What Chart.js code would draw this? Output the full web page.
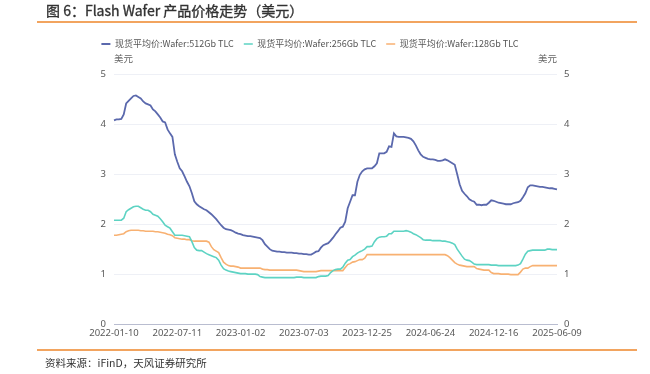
<!DOCTYPE html>
<html>
<head>
<meta charset="utf-8">
<script src="https://cdn.jsdelivr.net/npm/chart.js@4.4.1/dist/chart.umd.min.js"></script>
<style>
    html, body { margin: 0; padding: 0; background: #fff; }
    body { position: relative; width: 650px; height: 374px; overflow: hidden; font-family: "Noto Sans CJK SC", "Noto Sans", sans-serif; }
    .title { position: absolute; left: 46px; top: 0; line-height: 20px; font-size: 14px; font-weight: normal; -webkit-text-stroke: 0.35px #333; color: #333; white-space: nowrap; }
    .rule { position: absolute; left: 37px; width: 600px; height: 2px; background: #f2a45f; }
    .source { position: absolute; left: 45px; top: 355px; line-height: 16px; font-size: 10.5px; color: #333; white-space: nowrap; }
    .chart-box { position: absolute; left: 0; top: 0; width: 650px; height: 374px; }
</style>
</head>
<body>
<div class="chart-box"><canvas id="chart"></canvas></div>
<div class="title">图 6：Flash Wafer 产品价格走势（美元）</div>
<div class="rule" style="top: 21px;"></div>
<div class="rule" style="top: 349px;"></div>
<div class="source">资料来源：iFinD，天风证券研究所</div>

<script>
// weekly prices, one tick label every 26 points
const tickLabels = ['2022-01-10', '2022-07-11', '2023-01-02', '2023-07-03', '2023-12-25', '2024-06-24', '2024-12-16', '2025-06-09'];
const tickEvery = 26;

const seriesNames = ['现货平均价:Wafer:512Gb TLC', '现货平均价:Wafer:256Gb TLC', '现货平均价:Wafer:128Gb TLC'];
const seriesColors = ['#5b69ad', '#5dd3c3', '#f8b172'];

const wafer512 = [
    4.08, 4.10, 4.10, 4.11, 4.20, 4.42, 4.47, 4.52, 4.57, 4.58,
    4.55, 4.52, 4.46, 4.42, 4.40, 4.38, 4.30, 4.26, 4.20, 4.14,
    4.06, 4.04, 3.90, 3.82, 3.75, 3.40, 3.25, 3.12, 3.06, 2.96,
    2.85, 2.76, 2.62, 2.46, 2.40, 2.36, 2.33, 2.30, 2.28, 2.24,
    2.20, 2.15, 2.10, 2.04, 1.98, 1.93, 1.90, 1.89, 1.88, 1.86,
    1.83, 1.81, 1.80, 1.78, 1.77, 1.76, 1.76, 1.75, 1.74, 1.73,
    1.72, 1.68, 1.60, 1.55, 1.50, 1.47, 1.46, 1.45, 1.45, 1.44,
    1.44, 1.43, 1.43, 1.43, 1.42, 1.42, 1.41, 1.41, 1.40, 1.40,
    1.39, 1.39, 1.42, 1.45, 1.46, 1.53, 1.58, 1.60, 1.62, 1.67,
    1.73, 1.80, 1.86, 1.93, 1.95, 2.05, 2.32, 2.45, 2.58, 2.58,
    2.85, 2.99, 3.06, 3.10, 3.12, 3.12, 3.12, 3.16, 3.22, 3.42,
    3.42, 3.42, 3.45, 3.56, 3.55, 3.82, 3.76, 3.75, 3.75, 3.75,
    3.74, 3.73, 3.71, 3.66, 3.58, 3.48, 3.40, 3.35, 3.33, 3.31,
    3.30, 3.30, 3.29, 3.27, 3.27, 3.28, 3.30, 3.28, 3.25, 3.22,
    3.19, 3.00, 2.80, 2.67, 2.61, 2.56, 2.50, 2.47, 2.45, 2.39,
    2.39, 2.38, 2.39, 2.39, 2.43, 2.48, 2.47, 2.45, 2.43, 2.42,
    2.41, 2.40, 2.40, 2.40, 2.42, 2.43, 2.44, 2.47, 2.54, 2.62,
    2.74, 2.78, 2.78, 2.77, 2.76, 2.75, 2.75, 2.74, 2.73, 2.72,
    2.72, 2.71, 2.70
];

const wafer256 = [
    2.08, 2.08, 2.08, 2.08, 2.12, 2.25, 2.29, 2.32, 2.35, 2.36,
    2.36, 2.33, 2.30, 2.28, 2.28, 2.25, 2.20, 2.18, 2.16, 2.11,
    2.05, 1.98, 1.95, 1.92, 1.85, 1.78, 1.78, 1.78, 1.78, 1.77,
    1.76, 1.75, 1.65, 1.53, 1.48, 1.47, 1.47, 1.44, 1.41, 1.39,
    1.37, 1.35, 1.33, 1.28, 1.18, 1.11, 1.08, 1.06, 1.05, 1.04,
    1.03, 1.02, 1.01, 1.01, 1.01, 1.00, 1.00, 1.00, 1.00, 0.99,
    0.95, 0.94, 0.93, 0.93, 0.93, 0.93, 0.93, 0.93, 0.93, 0.93,
    0.93, 0.93, 0.93, 0.93, 0.93, 0.94, 0.94, 0.94, 0.93, 0.93,
    0.93, 0.93, 0.93, 0.93, 0.95, 0.96, 0.96, 0.96, 0.97, 1.03,
    1.07, 1.09, 1.10, 1.10, 1.14, 1.22, 1.28, 1.29, 1.35, 1.38,
    1.42, 1.45, 1.47, 1.50, 1.55, 1.55, 1.56, 1.65, 1.71, 1.74,
    1.75, 1.75, 1.76, 1.81, 1.81, 1.86, 1.86, 1.86, 1.86, 1.86,
    1.87, 1.86, 1.84, 1.81, 1.79, 1.76, 1.73, 1.69, 1.68, 1.68,
    1.68, 1.67, 1.67, 1.67, 1.67, 1.66, 1.66, 1.65, 1.64, 1.62,
    1.59, 1.50, 1.43, 1.36, 1.30, 1.28, 1.27, 1.24, 1.20, 1.19,
    1.19, 1.19, 1.19, 1.19, 1.19, 1.18, 1.18, 1.18, 1.17, 1.17,
    1.17, 1.17, 1.17, 1.17, 1.17, 1.17, 1.18, 1.21, 1.30, 1.40,
    1.46, 1.47, 1.48, 1.48, 1.48, 1.48, 1.48, 1.48, 1.50, 1.50,
    1.49, 1.49, 1.49
];

const wafer128 = [
    1.78, 1.78, 1.79, 1.80, 1.81, 1.85, 1.87, 1.88, 1.88, 1.88,
    1.88, 1.87, 1.87, 1.86, 1.86, 1.86, 1.86, 1.85, 1.85, 1.84,
    1.83, 1.82, 1.80, 1.79, 1.77, 1.73, 1.72, 1.71, 1.70, 1.70,
    1.69, 1.69, 1.67, 1.66, 1.66, 1.66, 1.66, 1.66, 1.66, 1.64,
    1.55, 1.49, 1.46, 1.43, 1.33, 1.24, 1.20, 1.17, 1.16, 1.16,
    1.15, 1.14, 1.12, 1.12, 1.12, 1.12, 1.12, 1.12, 1.12, 1.12,
    1.12, 1.10, 1.09, 1.09, 1.08, 1.08, 1.08, 1.08, 1.08, 1.08,
    1.08, 1.08, 1.08, 1.08, 1.08, 1.08, 1.07, 1.06, 1.05, 1.05,
    1.05, 1.05, 1.05, 1.05, 1.06, 1.07, 1.07, 1.07, 1.07, 1.07,
    1.07, 1.07, 1.07, 1.07, 1.07, 1.13, 1.19, 1.21, 1.24, 1.25,
    1.27, 1.29, 1.29, 1.32, 1.39, 1.39, 1.39, 1.39, 1.39, 1.39,
    1.39, 1.39, 1.39, 1.39, 1.39, 1.39, 1.39, 1.39, 1.39, 1.39,
    1.39, 1.39, 1.39, 1.39, 1.39, 1.39, 1.39, 1.39, 1.39, 1.39,
    1.39, 1.39, 1.39, 1.39, 1.39, 1.39, 1.39, 1.37, 1.33, 1.28,
    1.23, 1.20, 1.18, 1.17, 1.16, 1.15, 1.15, 1.15, 1.15, 1.11,
    1.10, 1.09, 1.08, 1.08, 1.08, 1.03, 1.01, 1.01, 1.01, 1.00,
    1.00, 1.00, 1.00, 0.99, 0.99, 0.99, 0.99, 1.04, 1.10, 1.12,
    1.12, 1.15, 1.17, 1.17, 1.17, 1.17, 1.17, 1.17, 1.17, 1.17,
    1.17, 1.17, 1.17
];

const yTicks = [0, 1, 2, 3, 4, 5];
const unitLabel = '美元';

// category labels: only every 26th point carries a date on the axis
const categories = wafer512.map((_, i) => (i % tickEvery === 0 ? tickLabels[i / tickEvery] : ''));

const textColor = '#595959';
const tickFont = { family: 'Noto Sans', size: 9.5 };

// push the plot area further below the legend
const legendGap = {
    id: 'legendGap',
    beforeInit(chart) {
        const origFit = chart.legend.fit;
        chart.legend.fit = function fit() {
            origFit.bind(chart.legend)();
            this.height += 16;
        };
    }
};

// "美元" unit names above both value axes
const unitNames = {
    id: 'unitNames',
    afterDraw(chart) {
        const { ctx, chartArea } = chart;
        ctx.save();
        ctx.font = '9.5px "Noto Sans CJK SC"';
        ctx.fillStyle = '#666';
        ctx.textBaseline = 'middle';
        ctx.textAlign = 'left';
        ctx.fillText(unitLabel, chartArea.left, 58.5);
        ctx.textAlign = 'right';
        ctx.fillText(unitLabel, chartArea.right, 58.5);
        ctx.restore();
    }
};

const datasets = [wafer512, wafer256, wafer128].map((values, i) => ({
    label: seriesNames[i],
    data: values,
    borderColor: seriesColors[i],
    backgroundColor: seriesColors[i],
    borderWidth: i === 0 ? 1.8 : 1.6,
    pointRadius: 0,
    tension: 0,
    fill: false
}));

new Chart(document.getElementById('chart'), {
    type: 'line',
    data: { labels: categories, datasets: datasets },
    plugins: [legendGap, unitNames],
    options: {
        responsive: true,
        maintainAspectRatio: false,
        animation: false,
        layout: { padding: { top: 29.5, right: 30, bottom: 0, left: 0 } },
        plugins: {
            legend: {
                position: 'top',
                labels: {
                    usePointStyle: true,
                    pointStyleWidth: 9,
                    pointStyle: 'line',
                    padding: 10,
                    color: '#555',
                    font: { family: 'Noto Sans CJK SC', size: 9 }
                }
            },
            tooltip: { enabled: false }
        },
        scales: {
            x: {
                type: 'category',
                grid: { display: false, drawTicks: false },
                border: { display: true, color: '#b9bdd0', width: 1 },
                ticks: {
                    autoSkip: false,
                    maxRotation: 0,
                    minRotation: 0,
                    padding: 4,
                    color: textColor,
                    font: tickFont
                },
                afterFit(scale) { scale.height = 50; }
            },
            y: {
                position: 'left',
                min: 0,
                max: 5,
                grid: { color: '#eef0f6', drawTicks: false },
                border: { display: false },
                afterBuildTicks(scale) { scale.ticks = yTicks.map(v => ({ value: v })); },
                ticks: { padding: 8, color: textColor, font: tickFont },
                afterFit(scale) { scale.width = 114; }
            },
            y2: {
                position: 'right',
                min: 0,
                max: 5,
                grid: { display: false, drawTicks: false },
                border: { display: false },
                afterBuildTicks(scale) { scale.ticks = yTicks.map(v => ({ value: v })); },
                ticks: { padding: 7, color: textColor, font: tickFont },
                afterFit(scale) { scale.width = 63; }
            }
        }
    }
});
</script>
</body>
</html>
